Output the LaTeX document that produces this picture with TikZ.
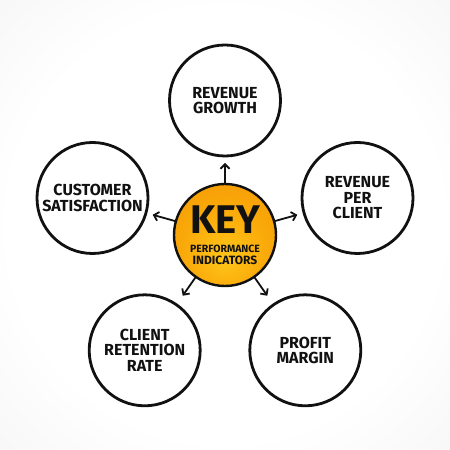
\documentclass[tikz,border=0pt]{standalone}
\usepackage{fontspec}
\setmainfont{Fira Sans}
\usepackage{tikz}
\usetikzlibrary{arrows.meta,positioning}
\definecolor{kpiorange}{RGB}{240, 140, 0}
\definecolor{kpimid}{RGB}{250, 170, 10}
\definecolor{kpiyellow}{RGB}{255, 198, 24}
\definecolor{ink}{RGB}{17, 17, 17}
\definecolor{bgedge}{RGB}{238, 238, 238}
\definecolor{bgcorner}{RGB}{226, 226, 226}
\pgfdeclareradialshading{kpishade}{\pgfpoint{0bp}{-12bp}}{color(0bp)=(kpiyellow); color(20bp)=(kpimid); color(50bp)=(kpiorange)}
\pgfdeclareradialshading{bgshade}{\pgfpoint{0bp}{0bp}}{color(0bp)=(white); color(24bp)=(white); color(50bp)=(bgedge); color(72bp)=(bgcorner)}
\tikzstyle{hub} = [circle, draw=ink, line width=2.4pt, shading=kpishade, minimum size=102pt, inner sep=0pt, outer sep=0pt, align=center, text=ink]
\tikzstyle{topic} = [circle, draw=ink, line width=2.8pt, minimum size=111pt, inner sep=0pt, outer sep=0pt, align=center, text=ink, font=\bfseries\fontsize{16}{15.5}\selectfont]
\tikzstyle{tedge}  = [draw=ink, line width=1.8pt, -{Straight Barb[length=4.5pt,width=9pt]}, shorten >=7pt]

\begin{document}
\begin{tikzpicture}[x=1pt, y=1pt]

% background =============================
\shade[shading=bgshade] (0,0) rectangle (450,450);
\useasboundingbox (0,0) rectangle (450,450);

% hub
\node[hub] (kpi) at (225,215) {{\bfseries\fontsize{40}{36}\selectfont KEY}\\[7pt]
  {\bfseries\fontsize{10.5}{11}\selectfont PERFORMANCE}\\
  {\bfseries\fontsize{12}{12}\selectfont INDICATORS}};

% topics
\node[topic, above=28pt of kpi] (growth) {REVENUE\\GROWTH};
\node[topic, left=26pt of kpi, yshift=37pt] (satisf) {CUSTOMER\\SATISFACTION};
\node[topic, right=26pt of kpi, yshift=37pt] (perclient) {REVENUE\\PER\\CLIENT};
\node[topic, below left=40pt and 5pt of kpi] (retention) {CLIENT\\RETENTION\\RATE};
\node[topic, below right=40pt and 5pt of kpi] (margin) {PROFIT\\MARGIN};

%edges
\path[tedge] (kpi) -- (growth);
\path[tedge] (kpi) -- (satisf);
\path[tedge] (kpi) -- (perclient);
\path[tedge, shorten >=11pt] (kpi) -- (retention);
\path[tedge, shorten >=11pt] (kpi) -- (margin);

\end{tikzpicture}
\end{document}
